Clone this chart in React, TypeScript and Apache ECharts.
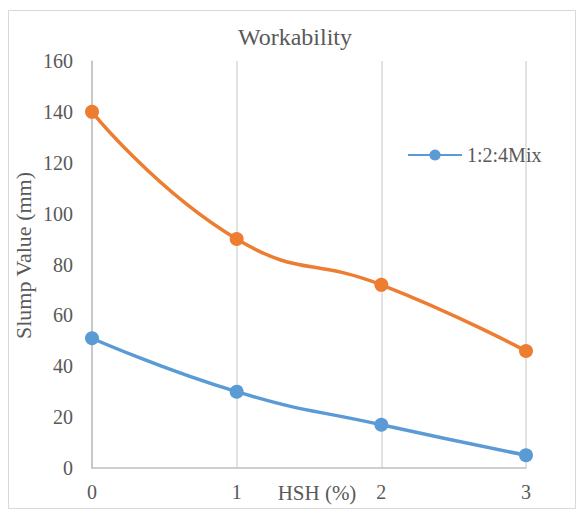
import React, { useEffect, useRef } from "react";
import * as echarts from "echarts";

const categories = ["0", "1", "2", "3"];
const mixValues = [51, 30, 17, 5];
const otherValues = [140, 90, 72, 46];
const legendNames = ["1:2:4Mix"];

const FONT = "'Liberation Serif', 'Times New Roman', serif";
const TXT = "#595959";

export default function App() {
  const ref = useRef<HTMLDivElement>(null);
  useEffect(() => {
    if (!ref.current) return;
    const chart = echarts.init(ref.current, null, { renderer: "svg" });
    chart.setOption({
      animation: false,
      backgroundColor: "#ffffff",
      textStyle: { fontFamily: FONT, color: TXT },
      title: {
        text: "Workability",
        left: 295,
        textAlign: "center",
        top: 25,
        padding: 0,
        textStyle: { fontFamily: FONT, fontSize: 24, fontWeight: "normal", color: TXT },
      },
      legend: {
        data: legendNames,
        left: 407,
        top: 145,
        padding: 0,
        itemWidth: 54,
        itemHeight: 14,
        itemGap: 4,
        textStyle: { fontFamily: FONT, fontSize: 20, color: TXT },
      },
      graphic: [
        {
          type: "rect",
          shape: { x: 8.5, y: 10.5, width: 567, height: 498 },
          style: { fill: "none", stroke: "#d9d9d9", lineWidth: 1 },
          silent: true,
        },
      ],
      grid: { left: 92, right: 53, top: 61, bottom: 44, outerBoundsMode: "none", containLabel: false },
      xAxis: {
        type: "category",
        data: categories,
        boundaryGap: false,
        name: "HSH (%)",
        nameLocation: "middle",
        nameGap: 14,
        nameMoveOverlap: false,
        nameTextStyle: { fontFamily: FONT, fontSize: 21, color: TXT, padding: [0, 0, 0, 16] },
        axisLine: { lineStyle: { color: "#bfbfbf", width: 1.5 } },
        axisTick: { show: false },
        axisLabel: { fontFamily: FONT, fontSize: 20, color: TXT, margin: 14 },
        splitLine: { show: true, lineStyle: { color: "#d9d9d9", width: 1.5 } },
      },
      yAxis: {
        type: "value",
        min: 0,
        max: 160,
        interval: 20,
        name: "Slump Value (mm)",
        nameLocation: "middle",
        nameGap: 58,
        nameMoveOverlap: false,
        nameTextStyle: { fontFamily: FONT, fontSize: 22, color: TXT, padding: [0, 0, 0, 18] },
        axisLine: { show: true, lineStyle: { color: "#bfbfbf", width: 1.5 } },
        axisTick: { show: false },
        axisLabel: { fontFamily: FONT, fontSize: 20, color: TXT, margin: 19 },
        splitLine: { show: false },
      },
      series: [
        {
          name: "1:2:4Mix",
          type: "line",
          data: mixValues,
          smooth: true,
          symbol: "circle",
          symbolSize: 14,
          itemStyle: { color: "#5b9bd5" },
          lineStyle: { color: "#5b9bd5", width: 3.5 },
          z: 3,
        },
        {
          name: "Other",
          type: "line",
          data: otherValues,
          smooth: true,
          symbol: "circle",
          symbolSize: 14,
          itemStyle: { color: "#ed7d31" },
          lineStyle: { color: "#ed7d31", width: 3.5 },
          z: 2,
        },
      ],
    });
    return () => chart.dispose();
  }, []);
  return (
    <div
      ref={ref}
      style={{ position: "absolute", left: 0, top: 0, width: 579, height: 512 }}
    />
  );
}
